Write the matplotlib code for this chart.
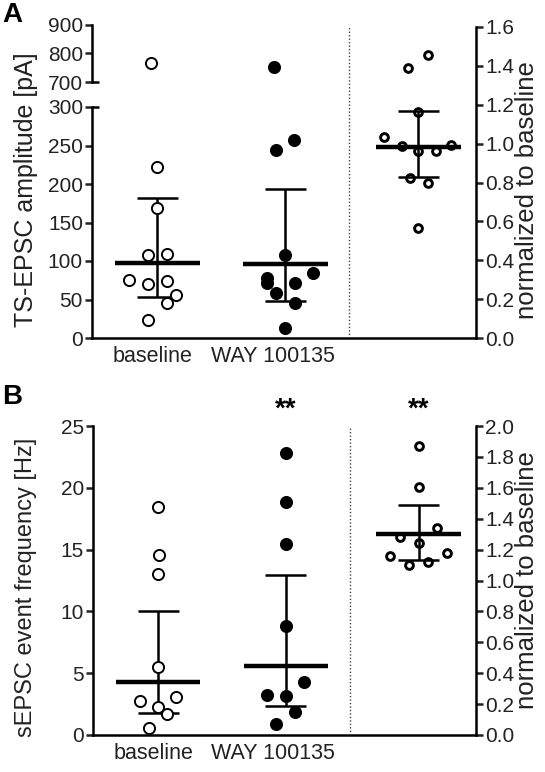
import matplotlib
matplotlib.use("Agg")
import matplotlib.pyplot as plt
from matplotlib.ticker import FormatStrFormatter

plt.rcParams['font.family'] = ['Liberation Sans', 'DejaVu Sans']
plt.rcParams['font.size'] = 15

# ---- data ----
groups = ["baseline", "WAY 100135"]

# panel A: TS-EPSC amplitude [pA]
amp_base = [766, 222, 169, 108, 109, 75, 70, 74, 56, 45, 24]
amp_base_dx = [-0.05, 0, 0, -0.073, 0.073, -0.22, -0.073, 0.073, 0.15, 0.073, -0.073]
amp_base_stats = [98, 53, 182]          # centre, lower, upper
amp_way = [751, 257, 244, 108, 85, 78, 72, 72, 58, 46, 13]
amp_way_dx = [-0.09, 0.068, -0.07, 0, 0.22, -0.14, -0.14, 0.073, -0.07, 0.073, 0]
amp_way_stats = [96, 48, 193]
amp_norm = [1.457, 1.391, 1.164, 1.034, 0.986, 0.962, 0.962, 0.991, 0.824, 0.80, 0.566]
amp_norm_dx = [0.078, -0.078, 0, -0.266, -0.13, 0, 0.135, 0.255, -0.065, 0.073, 0]
amp_norm_stats = [0.983, 0.828, 1.17]

# panel B: sEPSC event frequency [Hz]
freq_base = [18.42, 14.54, 13.03, 5.53, 2.75, 3.05, 2.29, 1.70, 0.54]
freq_base_dx = [0, 0.008, 0, 0, -0.143, 0.143, 0, 0.07, -0.073]
freq_base_stats = [4.25, 1.78, 10.0]
freq_way = [22.79, 18.88, 15.43, 8.85, 4.26, 3.24, 3.16, 1.89, 0.86]
freq_way_dx = [0, 0, 0, 0, 0.143, -0.148, 0, 0.07, -0.078]
freq_way_stats = [5.55, 2.38, 12.95]
freq_norm = [1.871, 1.603, 1.338, 1.279, 1.241, 1.176, 1.159, 1.122, 1.100]
freq_norm_dx = [0, 0, 0.143, -0.143, 0, 0.221, -0.221, 0.073, -0.078]
freq_norm_stats = [1.301, 1.133, 1.489]

# x layout
pos_base, pos_way, pos_norm, pos_sep = 0, 1, 2.04, 1.5
xlim = (-0.51, 2.49)

W, H = 545, 772
fig = plt.figure(figsize=(W / 100, H / 100), dpi=100)

LW = 1.8
TXT = '#222222'


def rect(x0, y0, x1, y1):
    # pixel box (top-left origin) -> figure fraction
    return [x0 / W, 1 - y1 / H, (x1 - x0) / W, (y1 - y0) / H]


def style(ax, left=False, right=False, bottom=False):
    ax.patch.set_alpha(0)
    for s in ['top', 'left', 'right', 'bottom']:
        ax.spines[s].set_visible(False)
        ax.spines[s].set_linewidth(LW)
    ax.spines['left'].set_visible(left)
    ax.spines['right'].set_visible(right)
    ax.spines['bottom'].set_visible(bottom)
    ax.tick_params(axis='y', direction='out', length=5, width=LW, pad=1.5,
                   left=left, labelleft=left, right=right, labelright=right,
                   colors=TXT, labelsize=15)
    ax.tick_params(axis='x', length=0, pad=6, colors=TXT, labelsize=15.5)
    ax.set_xlim(*xlim)


def draw_group(ax, pos, vals, dx, stats, filled, ms=8.0, mew=1.4, front=True):
    xs = [pos + d for d in dx]
    ax.plot(xs, vals, 'o', ms=ms, mew=mew, mec='black',
            mfc='black' if filled else 'white', ls='none', zorder=4 if front else 2)
    c, lo, hi = stats
    ax.vlines(pos, lo, hi, color='black', lw=LW, zorder=3)
    ax.hlines([lo, hi], pos - 0.16, pos + 0.16, color='black', lw=LW, zorder=3)
    ax.hlines(c, pos - 0.33, pos + 0.33, color='black', lw=3.2, zorder=3)


# ---------------- panel A ----------------
ax_lo = fig.add_axes(rect(92, 107, 476, 338))
ax_hi = fig.add_axes(rect(92, 25, 476, 82))
ax_ra = fig.add_axes(rect(92, 27, 476, 338))
style(ax_lo, left=True, bottom=True)
style(ax_hi, left=True)
style(ax_ra, right=True)

ax_lo.set_ylim(0, 300)
ax_lo.set_yticks(range(0, 301, 50))
ax_hi.set_ylim(700, 900)
ax_hi.set_yticks([700, 800, 900])
ax_hi.set_xticks([])
ax_ra.set_ylim(0, 1.6)
ax_ra.set_yticks([i * 0.2 for i in range(9)])
ax_ra.yaxis.set_major_formatter(FormatStrFormatter('%.1f'))
ax_ra.set_xticks([])
ax_lo.set_xticks([pos_base - 0.04, pos_way - 0.1])
ax_lo.set_xticklabels(groups)

for a in (ax_lo, ax_hi):
    draw_group(a, pos_base, amp_base, amp_base_dx, amp_base_stats, False)
    draw_group(a, pos_way, amp_way, amp_way_dx, amp_way_stats, True)
draw_group(ax_ra, pos_norm, amp_norm, amp_norm_dx, amp_norm_stats, False,
           ms=5.6, mew=2.1, front=False)
ax_ra.axvline(pos_sep, color='#444444', lw=1.0, ls=(0, (1, 1.5)))

# break caps on the left axis
ax_lo.plot([0, 0.018], [1, 1], transform=ax_lo.transAxes, color='black',
           lw=LW, clip_on=False, solid_capstyle='butt')
ax_hi.plot([0, 0.018], [0, 0], transform=ax_hi.transAxes, color='black',
           lw=LW, clip_on=False, solid_capstyle='butt')

fig.text(26 / W, 1 - 190 / H, "TS-EPSC amplitude [pA]", rotation=90,
         ha='center', va='center', color=TXT, fontsize=18)
fig.text(527 / W, 1 - 190 / H, "normalized to baseline", rotation=90,
         ha='center', va='center', color=TXT, fontsize=18.5)
fig.text(2 / W, 1 - 15 / H, "A", fontsize=20, fontweight='bold',
         ha='left', va='center')

# ---------------- panel B ----------------
ax_b = fig.add_axes(rect(93, 426, 476, 735))
ax_br = fig.add_axes(rect(93, 426, 476, 735))
style(ax_b, left=True, bottom=True)
style(ax_br, right=True)
ax_b.set_ylim(0, 25)
ax_b.set_yticks(range(0, 26, 5))
ax_br.set_ylim(0, 2.0)
ax_br.set_yticks([i * 0.2 for i in range(11)])
ax_br.yaxis.set_major_formatter(FormatStrFormatter('%.1f'))
ax_br.set_xticks([])
ax_b.set_xticks([pos_base - 0.04, pos_way - 0.1])
ax_b.set_xticklabels(groups)

draw_group(ax_b, pos_base, freq_base, freq_base_dx, freq_base_stats, False)
draw_group(ax_b, pos_way, freq_way, freq_way_dx, freq_way_stats, True)
draw_group(ax_br, pos_norm, freq_norm, freq_norm_dx, freq_norm_stats, False,
           ms=5.6, mew=2.1, front=False)
ax_br.axvline(pos_sep, color='#444444', lw=1.0, ls=(0, (1, 1.5)))

for p in (pos_way, pos_norm):
    ax_b.text(p, 26.3, "**", ha='center', va='center', fontsize=20,
              fontweight='bold', clip_on=False)

fig.text(26 / W, 1 - 587 / H, "sEPSC event frequency [Hz]", rotation=90,
         ha='center', va='center', color=TXT, fontsize=17)
fig.text(527 / W, 1 - 580 / H, "normalized to baseline", rotation=90,
         ha='center', va='center', color=TXT, fontsize=18.5)
fig.text(2 / W, 1 - 397 / H, "B", fontsize=20, fontweight='bold',
         ha='left', va='center')

fig.savefig("out.png", dpi=100)
